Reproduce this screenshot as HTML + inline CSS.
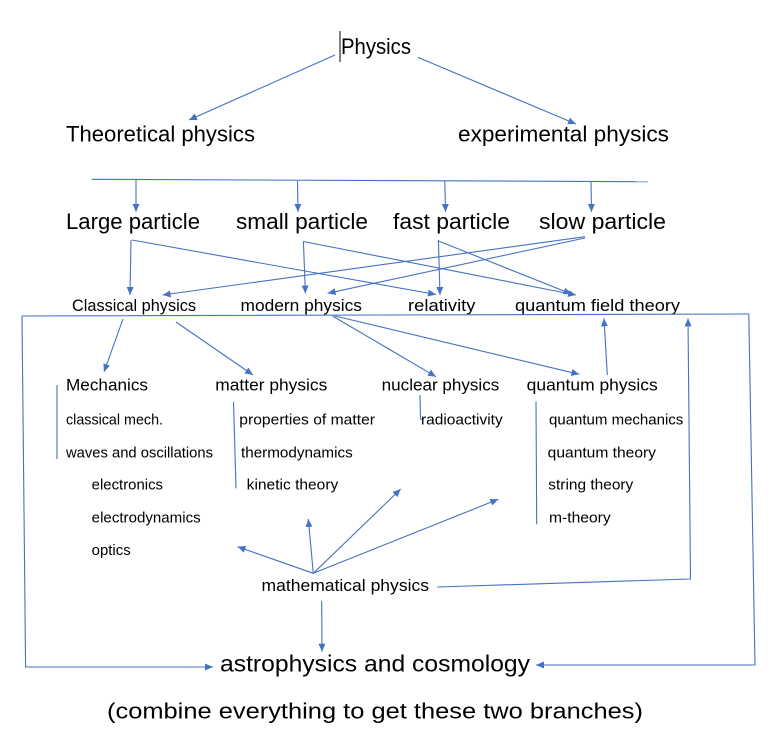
<!DOCTYPE html>
<html><head><meta charset="utf-8"><style>
html,body{margin:0;padding:0;background:#fff;}
svg{display:block;}
text{font-family:"Liberation Sans",sans-serif;fill:#000;}
.b{font-size:22px;}
.m{font-size:16.5px;}
.s{font-size:14.5px;}
line,polyline{stroke:#4472C4;stroke-width:1.1;fill:none;}
</style></head><body>
<svg width="772" height="744" viewBox="0 0 772 744" xmlns="http://www.w3.org/2000/svg">
<defs>
<marker id="a" markerUnits="userSpaceOnUse" markerWidth="10" markerHeight="8" refX="8" refY="3.5" orient="auto">
<path d="M0,0 L8,3.5 L0,7 z" fill="#4472C4"/>
</marker>
</defs>

<!-- cursor -->
<line x1="340" y1="31" x2="340" y2="62" style="stroke:#000;stroke-width:1"/>

<!-- texts -->
<text class="b" x="341" y="54" textLength="70" lengthAdjust="spacingAndGlyphs">Physics</text>
<text class="b" x="66" y="141.5" textLength="189" lengthAdjust="spacingAndGlyphs">Theoretical physics</text>
<text class="b" x="458" y="141.5" textLength="211" lengthAdjust="spacingAndGlyphs">experimental physics</text>

<text class="b" x="66" y="229" textLength="134" lengthAdjust="spacingAndGlyphs">Large particle</text>
<text class="b" x="236" y="229" textLength="132" lengthAdjust="spacingAndGlyphs">small particle</text>
<text class="b" x="393" y="229" textLength="117" lengthAdjust="spacingAndGlyphs">fast particle</text>
<text class="b" x="539" y="229" textLength="127" lengthAdjust="spacingAndGlyphs">slow particle</text>

<text class="m" x="72" y="311" textLength="124" lengthAdjust="spacingAndGlyphs">Classical physics</text>
<text class="m" x="240.5" y="311" textLength="121.5" lengthAdjust="spacingAndGlyphs">modern physics</text>
<text class="m" x="408" y="311" textLength="67.5" lengthAdjust="spacingAndGlyphs">relativity</text>
<text class="m" x="515" y="311" textLength="165" lengthAdjust="spacingAndGlyphs">quantum field theory</text>

<text class="m" x="66" y="390.7" textLength="82" lengthAdjust="spacingAndGlyphs">Mechanics</text>
<text class="m" x="215.3" y="390.7" textLength="112" lengthAdjust="spacingAndGlyphs">matter physics</text>
<text class="m" x="381.7" y="390.7" textLength="117.6" lengthAdjust="spacingAndGlyphs">nuclear physics</text>
<text class="m" x="526.7" y="390.7" textLength="131" lengthAdjust="spacingAndGlyphs">quantum physics</text>

<text class="s" x="66" y="424.5" textLength="97" lengthAdjust="spacingAndGlyphs">classical mech.</text>
<text class="s" x="239.3" y="424.5" textLength="135.7" lengthAdjust="spacingAndGlyphs">properties of matter</text>
<text class="s" x="421" y="424.5" textLength="81.7" lengthAdjust="spacingAndGlyphs">radioactivity</text>
<text class="s" x="549" y="424.5" textLength="134.3" lengthAdjust="spacingAndGlyphs">quantum mechanics</text>

<text class="s" x="66" y="457.3" textLength="147" lengthAdjust="spacingAndGlyphs">waves and oscillations</text>
<text class="s" x="241" y="457.3" textLength="111.7" lengthAdjust="spacingAndGlyphs">thermodynamics</text>
<text class="s" x="547.7" y="457.3" textLength="108.3" lengthAdjust="spacingAndGlyphs">quantum theory</text>

<text class="s" x="91.7" y="489.3" textLength="71.3" lengthAdjust="spacingAndGlyphs">electronics</text>
<text class="s" x="246.7" y="489.3" textLength="91.6" lengthAdjust="spacingAndGlyphs">kinetic theory</text>
<text class="s" x="548.3" y="489.3" textLength="85" lengthAdjust="spacingAndGlyphs">string theory</text>

<text class="s" x="91.7" y="522.5" textLength="109" lengthAdjust="spacingAndGlyphs">electrodynamics</text>
<text class="s" x="549" y="522.5" textLength="61.7" lengthAdjust="spacingAndGlyphs">m-theory</text>

<text class="s" x="91.7" y="555" textLength="39" lengthAdjust="spacingAndGlyphs">optics</text>

<text class="m" x="261.5" y="591" textLength="167.5" lengthAdjust="spacingAndGlyphs">mathematical physics</text>

<text class="b" x="220" y="671.7" textLength="310" lengthAdjust="spacingAndGlyphs" style="font-size:23px">astrophysics and cosmology</text>
<text class="b" x="107" y="718.5" textLength="536" lengthAdjust="spacingAndGlyphs">(combine everything to get these two branches)</text>

<!-- connectors -->
<line x1="335" y1="55" x2="189" y2="120" marker-end="url(#a)"/>
<line x1="417.7" y1="57.3" x2="576" y2="124" marker-end="url(#a)"/>

<line x1="91.6" y1="179.3" x2="648" y2="181.7"/>
<line x1="136" y1="180" x2="136" y2="212" marker-end="url(#a)"/>
<line x1="297.5" y1="181" x2="298" y2="212" marker-end="url(#a)"/>
<line x1="444.8" y1="181" x2="445.5" y2="212" marker-end="url(#a)"/>
<line x1="591" y1="181.5" x2="591.5" y2="212" marker-end="url(#a)"/>

<line x1="131" y1="240" x2="130" y2="295" marker-end="url(#a)"/>
<line x1="132" y1="240" x2="436" y2="294.5" marker-end="url(#a)"/>
<line x1="303.4" y1="241.5" x2="305.4" y2="293.5" marker-end="url(#a)"/>
<line x1="303.4" y1="241.5" x2="576" y2="295" marker-end="url(#a)"/>
<line x1="438.4" y1="240" x2="440" y2="295" marker-end="url(#a)"/>
<line x1="438.4" y1="241" x2="571.4" y2="294" marker-end="url(#a)"/>
<line x1="585" y1="236.7" x2="162.6" y2="295" marker-end="url(#a)"/>
<line x1="585" y1="238" x2="327.6" y2="293.3" marker-end="url(#a)"/>

<polyline points="748.8,314 22,316 25.6,667 213,667" marker-end="url(#a)"/>
<polyline points="748.8,314 755,665 536,665" marker-end="url(#a)"/>

<line x1="123" y1="319" x2="104" y2="372" marker-end="url(#a)"/>
<line x1="176" y1="322" x2="253" y2="375" marker-end="url(#a)"/>
<line x1="332.5" y1="316" x2="436" y2="376.7" marker-end="url(#a)"/>
<line x1="335" y1="316" x2="579.3" y2="374.3" marker-end="url(#a)"/>
<line x1="607.3" y1="375" x2="604" y2="318.3" marker-end="url(#a)"/>
<polyline points="437.3,587 690.5,579 688,318.3" marker-end="url(#a)"/>

<!-- brackets -->
<line x1="57" y1="385" x2="57" y2="459"/>
<polyline points="233.5,401.7 236,488.3"/>
<polyline points="420,395 420.5,419 422,419.5"/>
<line x1="536" y1="401.7" x2="536.7" y2="524.3"/>

<!-- mathematical physics arrows -->
<line x1="313.3" y1="573.3" x2="237.5" y2="546.7" marker-end="url(#a)"/>
<line x1="313.3" y1="573.3" x2="308.3" y2="519" marker-end="url(#a)"/>
<line x1="313.3" y1="573.3" x2="400.7" y2="489" marker-end="url(#a)"/>
<line x1="313.3" y1="573.3" x2="498.3" y2="499.3" marker-end="url(#a)"/>
<line x1="321.7" y1="600.7" x2="322" y2="651.7" marker-end="url(#a)"/>
</svg>
</body></html>
